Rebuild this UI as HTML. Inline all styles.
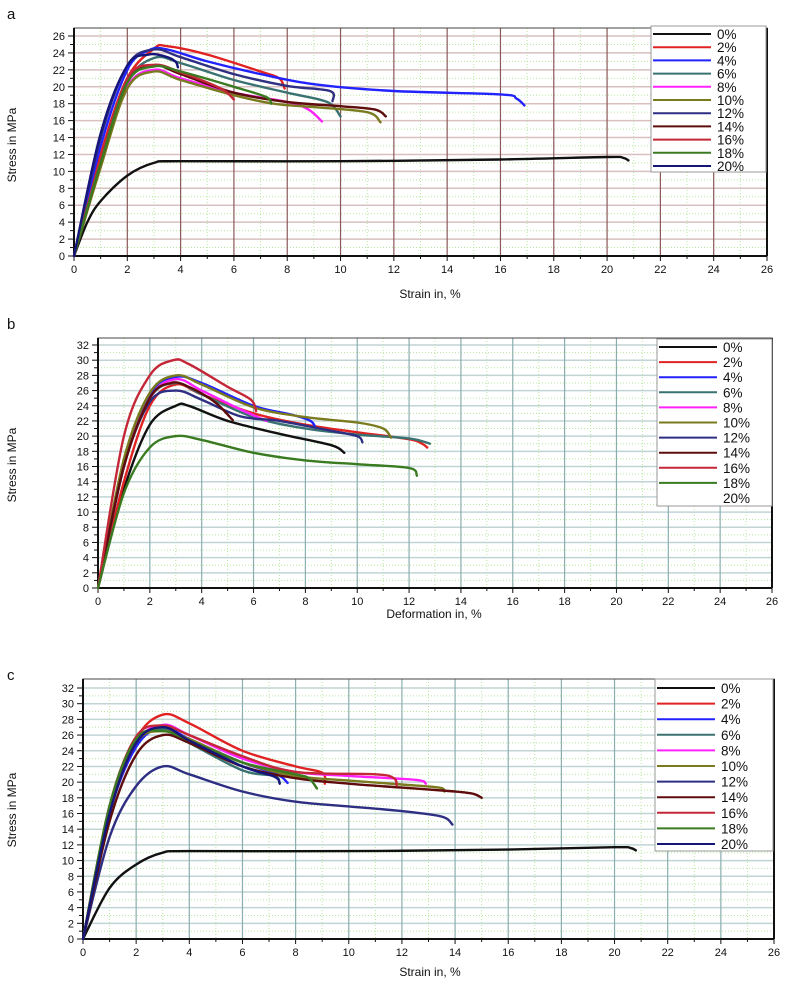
<!DOCTYPE html>
<html><head><meta charset="utf-8"><style>
body{margin:0;background:#fff}
svg{display:block;font-family:"Liberation Sans",Arial,sans-serif}
</style></head><body>
<svg id="fig" width="791" height="989" viewBox="0 0 791 989"></svg>
<script>
const seriesLabels=["0%","2%","4%","6%","8%","10%","12%","14%","16%","18%","20%"];
const seriesColors=["#111111","#e02222","#2222ff","#3a7272","#ff22ff","#7a7a1e","#2e2e82","#5e0c0c","#c42838","#3a7a20","#16167a"];
const xTicks=[0,2,4,6,8,10,12,14,16,18,20,22,24,26];
const yTicksA=[0,2,4,6,8,10,12,14,16,18,20,22,24,26];
const yTicksBC=[0,2,4,6,8,10,12,14,16,18,20,22,24,26,28,30,32];
const dataA=[
[[0,0],[0.5,4],[1,6.5],[2,9.5],[3,11],[4,11.2],[10,11.2],[16,11.4],[20,11.7],[20.6,11.6],[20.8,11.3]],
[[0,0],[1,12],[2,21],[3,24.5],[3.5,24.8],[5,23.8],[7,21.8],[7.7,21],[7.9,19.8]],
[[0,0],[1,13],[2,22],[2.8,24.3],[3.5,24.4],[5,23],[7,21.5],[9,20.3],[12,19.5],[16,19.1],[16.6,18.6],[16.9,17.8]],
[[0,0],[1,11],[2,20.5],[3,23.4],[4,22.8],[6,20.8],[8,19.3],[9.5,18.2],[10,16.5]],
[[0,0],[1,11],[2,20],[3,22],[4,21],[6,19.3],[8,18.2],[8.8,17.3],[9.3,15.9]],
[[0,0],[1,10.5],[2,19.8],[3,21.8],[4,20.8],[6,19],[7.5,18],[9,17.6],[11,17],[11.5,15.8]],
[[0,0],[1,14],[2,22.5],[3,24.4],[4,23.5],[6,21.5],[8,20.1],[9.6,19.5],[9.7,18.3]],
[[0,0],[1,11],[2,20.5],[3,22.5],[4,21.5],[6,19.3],[8,18.2],[10,17.7],[11.3,17.3],[11.7,16.5]],
[[0,0],[1,11.5],[2,21],[3,22.6],[4,21.7],[5.5,19.8],[6,18.5]],
[[0,0],[1,11],[2,20.5],[3,22.4],[4,21.8],[6,20],[7.2,18.8],[7.4,18]],
[[0,0],[1,14.5],[2,22.5],[2.8,23.8],[3.4,23.6],[3.8,23],[3.9,22.3]]
];
const dataB=[
[[0,0],[1,13],[2,21.5],[3,24],[3.5,24],[5,22],[7,20.3],[9,18.8],[9.5,17.8]],
[[0,0],[1,14],[2,24],[3,26.8],[4,25.5],[6,23],[8,21.5],[10,20.5],[12,19.6],[12.5,19],[12.7,18.5]],
[[0,0],[1,16],[2,25.5],[3,27.8],[4,27],[6,24],[7.5,22.8],[8.2,22],[8.4,21]],
[[0,0],[1,16],[2,25],[3,27],[4,25.5],[6,22.5],[8,21],[10,20.2],[12,19.7],[12.8,19]],
[[0,0],[1,16],[2,25],[3,27.5],[4,26],[5.5,23.5],[6.5,22]],
[[0,0],[1,17],[2,25.7],[3,28],[4,26.8],[6,23.8],[8,22.5],[10,21.8],[11,21],[11.3,19.8]],
[[0,0],[1,16],[2,24.5],[3,26],[4,24.8],[5.5,22.6],[7,22],[9,20.7],[10,20],[10.2,19.2]],
[[0,0],[1,16],[2,25],[2.8,27],[3.5,26.5],[4.5,24.5],[5.2,22.1]],
[[0,0],[1,20],[2,28],[2.9,30],[3.5,29.5],[5,26.5],[5.9,24.8],[6.1,23.3]],
[[0,0],[1,12.5],[2,18.5],[3,20],[4,19.5],[6,17.8],[8,16.8],[10,16.3],[12,15.8],[12.3,14.8]],
[]
];
const dataC=[
[[0,0],[1,6.5],[2,9.5],[3,11],[4,11.2],[10,11.2],[16,11.4],[20,11.7],[20.6,11.6],[20.8,11.3]],
[[0,0],[1,16],[2,25.5],[3,28.6],[4,27.5],[6,24],[8,22],[9,21.2],[9.1,19.8]],
[[0,0],[1,16],[2,24.5],[3,27],[4,25.5],[6,22.5],[7.3,21],[7.7,19.9]],
[[0,0],[1,16],[2,25],[3,26.8],[4,25],[6,21.5],[7.2,20.8],[7.4,19.9]],
[[0,0],[1,16],[2,25],[3,27.3],[4,26],[6,23],[8,21.3],[10,20.8],[12.5,20.3],[12.9,19.8]],
[[0,0],[1,16],[2,25],[3,26.5],[4,25.5],[6,22.5],[8,20.8],[10,20.2],[12,19.7],[13.4,19.3],[13.6,18.8]],
[[0,0],[1,13],[2,19.5],[3,22],[4,21],[6,18.8],[8,17.5],[10,16.9],[12,16.3],[13.5,15.6],[13.9,14.6]],
[[0,0],[1,15],[2,23.5],[3,26],[4,25],[6,22],[8,20.5],[10,19.8],[12,19.3],[14,18.8],[14.7,18.5],[15,18]],
[[0,0],[1,17],[2,25.8],[3,27.2],[4,26],[6,23.3],[8,21.3],[11,21],[11.7,20.5],[11.8,19.6]],
[[0,0],[1,17],[2,25.5],[3,26.5],[4,25.3],[6,22.5],[8,21],[8.5,20.5],[8.8,19.2]],
[[0,0],[1,16],[2,25],[3,27],[4,25.3],[6,22],[7.2,20.7],[7.4,19.8]]
];
const NS="http://www.w3.org/2000/svg";
const svg=document.getElementById("fig");
function mk(tag,attrs,parent){const e=document.createElementNS(NS,tag);for(const k in attrs)e.setAttribute(k,attrs[k]);(parent||svg).appendChild(e);return e;}
function smooth(pts){
  if(pts.length<2)return "";
  let d="M"+pts[0][0].toFixed(1)+","+pts[0][1].toFixed(1);
  for(let i=0;i<pts.length-1;i++){
    const p0=pts[Math.max(0,i-1)],p1=pts[i],p2=pts[i+1],p3=pts[Math.min(pts.length-1,i+2)];
    const c1=[p1[0]+(p2[0]-p0[0])/6,p1[1]+(p2[1]-p0[1])/6];
    const c2=[p2[0]-(p3[0]-p1[0])/6,p2[1]-(p3[1]-p1[1])/6];
    d+="C"+c1[0].toFixed(1)+","+c1[1].toFixed(1)+" "+c2[0].toFixed(1)+","+c2[1].toFixed(1)+" "+p2[0].toFixed(1)+","+p2[1].toFixed(1);
  }
  return d;
}
function chart(cfg){
  const g=mk("g",{});
  
  
  const yMax=cfg.yTicks[cfg.yTicks.length-1];
  const sx=v=>cfg.x0+(cfg.x1-cfg.x0)*v/26;
  const sy=v=>cfg.y0-(cfg.y0-cfg.yTop)*v/yMax;
  const top=cfg.border;
  // minor dotted grid
  for(let v=1;v<26;v+=2){const l=mk("line",{x1:sx(v),x2:sx(v),y1:top,y2:cfg.y0,stroke:"#b8e8a0","stroke-width":1,"stroke-dasharray":"1,2"},g);}
  for(let v=1;v<yMax;v+=2){mk("line",{x1:cfg.x0,x2:cfg.x1,y1:sy(v),y2:sy(v),stroke:"#b8e8a0","stroke-width":1,"stroke-dasharray":"1,2"},g);}
  // major grid
  cfg.yTicks.forEach(v=>{if(v>0)mk("line",{x1:cfg.x0,x2:cfg.x1,y1:sy(v),y2:sy(v),stroke:cfg.hGrid,"stroke-width":1.5},g);});
  xTicks.forEach(v=>{if(v>0&&v<26)mk("line",{x1:sx(v),x2:sx(v),y1:top,y2:cfg.y0,stroke:cfg.vGrid,"stroke-width":1.2},g);});
  // frame
  mk("rect",{x:cfg.x0,y:top,width:cfg.x1-cfg.x0,height:cfg.y0-top,fill:"none",stroke:"#444","stroke-width":1},g);
  mk("line",{x1:cfg.x0,x2:cfg.x0,y1:top,y2:cfg.y0,stroke:"#111","stroke-width":2},g);
  mk("line",{x1:cfg.x0,x2:cfg.x1,y1:cfg.y0,y2:cfg.y0,stroke:"#111","stroke-width":2},g);
  mk("line",{x1:cfg.x1,x2:cfg.x1,y1:top,y2:cfg.y0,stroke:"#111","stroke-width":2},g);
  // ticks
  for(let v=0;v<=26;v++){mk("line",{x1:sx(v),x2:sx(v),y1:cfg.y0,y2:cfg.y0+(v%2?3:5),stroke:"#111","stroke-width":1},g);}
  for(let v=0;v<=yMax;v++){mk("line",{x1:cfg.x0-(v%2?4:6),x2:cfg.x0,y1:sy(v),y2:sy(v),stroke:"#111","stroke-width":1},g);}
  xTicks.forEach(v=>{const t=mk("text",{x:sx(v),y:cfg.y0+17,"font-size":11,"text-anchor":"middle",fill:"#111"},g);t.textContent=v;
    });
  cfg.yTicks.forEach(v=>{const t=mk("text",{x:cfg.x0-9,y:sy(v)+4,"font-size":11,"text-anchor":"end",fill:"#111"},g);t.textContent=v;
    });
  // series
  cfg.data.forEach((pts,i)=>{
    if(!pts.length)return;
    const p=mk("path",{d:smooth(pts.map(q=>[sx(q[0]),sy(q[1])])),fill:"none",stroke:seriesColors[i],"stroke-width":2.4,"stroke-linecap":"round","stroke-linejoin":"round"},g);
    
    
  });
  // legend
  const L=cfg.legend;
  const lg=mk("g",{},g);
  
  
  mk("rect",{x:L.x,y:L.y,width:L.w,height:L.h,fill:"#fff",stroke:"#999","stroke-width":1},lg);
  seriesLabels.forEach((s,i)=>{
    const yy=L.y+L.first+i*L.step;
    if(!(cfg.noLine&&cfg.noLine.includes(i))){
      const ln=mk("line",{x1:L.x+2,x2:L.x+60,y1:yy,y2:yy,stroke:seriesColors[i],"stroke-width":2},lg);
      
      
    }
    const t=mk("text",{x:L.x+66,y:yy+5,"font-size":13.5,fill:"#111"},lg);t.textContent=s;
    
    
  });
  const xt=mk("text",{x:cfg.xTitle[0],y:cfg.xTitle[1],"font-size":12,"text-anchor":"middle",fill:"#111"},g);xt.textContent=cfg.xLabel;
  
  const yt=mk("text",{x:0,y:0,"font-size":12,"text-anchor":"middle",fill:"#111",transform:"translate("+cfg.yTitle[0]+","+cfg.yTitle[1]+") rotate(-90)"},g);yt.textContent="Stress in MPa";
  
  const pl=mk("text",{x:7,y:cfg.panelY,"font-size":15,fill:"#111"},g);pl.textContent=cfg.panel;
  
}
chart({name:"chart-a",panel:"a",panelY:19,x0:74,x1:767,y0:256,yTop:36,border:28,yTicks:yTicksA,data:dataA,
  hGrid:"#d8c0c0",vGrid:"#8a5858",xLabel:"Strain in, %",xTitle:[430,298],yTitle:[16,145],
  legend:{x:651,y:26,w:115,h:146,first:8,step:13.2}});
chart({name:"chart-b",panel:"b",panelY:329,x0:98,x1:772,y0:588,yTop:345,border:338,yTicks:yTicksBC,data:dataB,
  hGrid:"#c0d4d4",vGrid:"#8aaeae",xLabel:"Deformation in, %",xTitle:[434,618],yTitle:[16,465],
  legend:{x:657,y:339,w:115,h:167,first:8,step:15.1},noLine:[10]});
chart({name:"chart-c",panel:"c",panelY:680,x0:83,x1:774,y0:939,yTop:688,border:679,yTicks:yTicksBC,data:dataC,
  hGrid:"#c0d4d4",vGrid:"#8aaeae",xLabel:"Strain in, %",xTitle:[430,976],yTitle:[16,810],
  legend:{x:655,y:679,w:118,h:172,first:9,step:15.6}});
</script>
</body></html>
